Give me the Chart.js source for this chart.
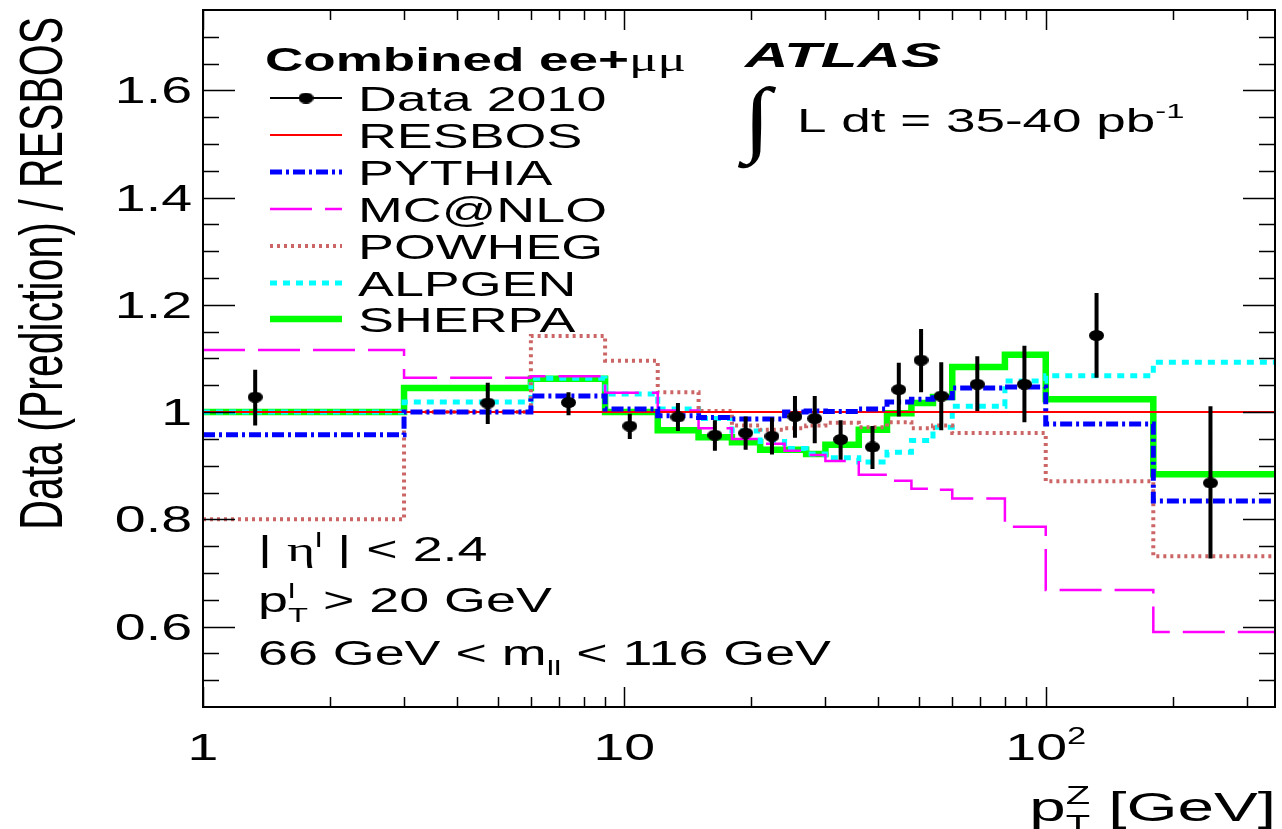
<!DOCTYPE html>
<html>
<head>
<meta charset="utf-8">
<script src="https://cdn.jsdelivr.net/npm/chart.js@4.4.1/dist/chart.umd.min.js"></script>
<style>
  html, body { margin: 0; padding: 0; background: #fff; }
  #wrap { width: 1282px; height: 829px; }
</style>
</head>
<body>
<div id="wrap"><canvas id="ratio" width="1282" height="829"></canvas></div>
<script>
// Z pT ratio plot: Data and generator predictions divided by RESBOS.

// -- bins (GeV); the first bin starts at the axis minimum on the log scale ----
const binEdges = [1, 3, 6, 9, 12, 15, 18, 21, 24, 27, 30, 36, 42, 48, 54, 60, 80, 100, 180, 350];

// -- one value per bin --------------------------------------------------------
const resbos = [1, 1, 1, 1, 1, 1, 1, 1, 1, 1, 1, 1, 1, 1, 1, 1, 1, 1, 1];
const pythia = [0.958, 1.000, 1.030, 1.006, 0.993, 0.990, 0.987, 0.987, 1.000, 1.002, 1.001, 1.006, 1.019, 1.024, 1.027, 1.045, 1.047, 0.978, 0.834];
const mcnlo  = [1.116, 1.064, 1.067, 1.036, 1.003, 0.970, 0.950, 0.941, 0.928, 0.920, 0.909, 0.883, 0.872, 0.857, 0.855, 0.839, 0.786, 0.668, 0.590];
const powheg = [0.800, 1.000, 1.142, 1.096, 1.037, 1.002, 0.975, 0.967, 0.970, 0.975, 0.980, 0.972, 0.981, 0.970, 0.975, 0.961, 0.961, 0.871, 0.731];
const alpgen = [1.000, 1.019, 1.063, 1.034, 1.006, 0.988, 0.965, 0.945, 0.932, 0.922, 0.915, 0.907, 0.925, 0.947, 0.972, 1.011, 1.058, 1.068, 1.093];
const sherpa = [1.000, 1.045, 1.062, 1.000, 0.966, 0.953, 0.944, 0.930, 0.930, 0.922, 0.939, 0.967, 0.998, 1.017, 1.028, 1.084, 1.107, 1.024, 0.884];

// -- data points with errors ---------------------------------------------------
const dataX    = [1.33, 4.74, 7.37, 10.3, 13.4, 16.4, 19.4, 22.4, 25.4, 28.3, 32.6, 38.8, 44.8, 50.6, 56.5, 68.8, 89.0, 132, 246];
const dataY    = [1.028, 1.017, 1.018, 0.974, 0.991, 0.957, 0.961, 0.955, 0.992, 0.988, 0.949, 0.935, 1.042, 1.097, 1.030, 1.052, 1.052, 1.143, 0.868];
const dataLow  = [0.975, 0.978, 0.994, 0.950, 0.965, 0.928, 0.930, 0.921, 0.952, 0.942, 0.911, 0.894, 0.992, 1.037, 0.966, 1.002, 0.981, 1.064, 0.727];
const dataHigh = [1.079, 1.055, 1.037, 0.997, 1.017, 0.985, 0.992, 0.990, 1.030, 1.030, 0.985, 0.974, 1.092, 1.155, 1.093, 1.104, 1.124, 1.222, 1.011];

// -- axes ------------------------------------------------------------------------
const xTickValues = [1, 10, 100];
const xTickLabels = ['1', '10', '10^2'];
const yTickValues = [0.6, 0.8, 1, 1.2, 1.4, 1.6];
const yTickLabels = ['0.6', '0.8', '1', '1.2', '1.4', '1.6'];

// -- styles --------------------------------------------------------------------
const SX = 1.56; // the reference text is drawn wide
const FONT = '"Liberation Sans", Arial, Helvetica, sans-serif';
const GREEK = '"Liberation Serif", "DejaVu Serif", serif';

const series = [
  { label: 'RESBOS', values: resbos, color: '#ff0000', width: 2,   dash: [],             order: 2 },
  { label: 'PYTHIA', values: pythia, color: '#0000ff', width: 5,   dash: [12, 4, 3, 4],  order: 1 },
  { label: 'MC@NLO', values: mcnlo,  color: '#ff00ff', width: 2.5, dash: [42, 13],       order: 3 },
  { label: 'POWHEG', values: powheg, color: '#cc6666', width: 4,   dash: [3, 4],         order: 4 },
  { label: 'ALPGEN', values: alpgen, color: '#00ffff', width: 5,   dash: [7, 6],         order: 5 },
  { label: 'SHERPA', values: sherpa, color: '#00ff00', width: 6.5, dash: [],             order: 6 },
];

// Filled ellipse used as the data marker (the picture is stretched sideways).
function makeMarker(w, h) {
  const c = document.createElement('canvas');
  c.width = w;
  c.height = h;
  const g = c.getContext('2d');
  g.fillStyle = '#000';
  g.beginPath();
  g.ellipse(w / 2, h / 2, w / 2, h / 2, 0, 0, Math.PI * 2);
  g.fill();
  return c;
}
const dataMarker = makeMarker(15, 11);

// Step histogram: each bin value is held from its left edge to the next one.
function histPoints(values) {
  const pts = values.map((v, i) => ({ x: binEdges[i], y: v }));
  pts.push({ x: binEdges[binEdges.length - 1], y: values[values.length - 1] });
  return pts;
}

// -----------------------------------------------------------------------------
// Rich text: parts like { t, pos: 'sup'|'sub', stack, bold, italic, greek }
// -----------------------------------------------------------------------------
function partFont(p, size) {
  const s = p.pos ? Math.round(size * 0.62) : size;
  return `${p.italic ? 'italic ' : ''}${p.bold ? 'bold ' : ''}${s}px ${p.greek ? GREEK : FONT}`;
}

function layoutRich(ctx, parts, size) {
  let x = 0;
  let prevX = 0;
  let prevW = 0;
  const items = [];
  for (const p of parts) {
    const font = partFont(p, size);
    ctx.font = font;
    const w = ctx.measureText(p.t).width;
    const px = p.stack ? prevX : x;
    const dy = p.pos === 'sup' ? -size * 0.42 : p.pos === 'sub' ? size * 0.3 : 0;
    items.push({ t: p.t, px, dy, font });
    if (p.stack) {
      x = prevX + Math.max(prevW, w);
    } else {
      prevX = px;
      prevW = w;
      x = px + w;
    }
  }
  return { items, width: x };
}

function drawRich(ctx, x, y, parts, size, align = 'left', sx = SX) {
  ctx.save();
  const { items, width } = layoutRich(ctx, parts, size);
  ctx.translate(x, y);
  ctx.scale(sx, 1);
  const x0 = align === 'right' ? -width : align === 'center' ? -width / 2 : 0;
  ctx.fillStyle = '#000';
  ctx.textAlign = 'left';
  ctx.textBaseline = 'alphabetic';
  for (const it of items) {
    ctx.font = it.font;
    ctx.fillText(it.t, x0 + it.px, it.dy);
  }
  ctx.restore();
}

function parseLabel(s) {
  const [base, sup] = s.split('^');
  return sup ? [{ t: base }, { t: sup, pos: 'sup' }] : [{ t: base }];
}

// -----------------------------------------------------------------------------
// Error bars — drawn just before the data dataset so the markers sit on top.
// -----------------------------------------------------------------------------
const errorBarPlugin = {
  id: 'errorBars',
  beforeDatasetDraw(chart, args) {
    if (args.index !== 0) return;
    const { x, y } = chart.scales;
    const ctx = chart.ctx;
    ctx.save();
    ctx.strokeStyle = '#000';
    ctx.lineWidth = 4;
    ctx.beginPath();
    dataX.forEach((xv, i) => {
      const px = x.getPixelForValue(xv);
      ctx.moveTo(px, y.getPixelForValue(dataLow[i]));
      ctx.lineTo(px, y.getPixelForValue(dataHigh[i]));
    });
    ctx.stroke();
    ctx.restore();
  },
};

// -----------------------------------------------------------------------------
// Frame, inward ticks on all four sides, labels, legend and annotations.
// -----------------------------------------------------------------------------
const framePlugin = {
  id: 'rootFrame',
  afterDraw(chart) {
    const ctx = chart.ctx;
    const a = chart.chartArea;
    const { x, y } = chart.scales;

    ctx.save();
    ctx.strokeStyle = '#000';
    ctx.lineWidth = 2;
    ctx.strokeRect(a.left, a.top, a.right - a.left, a.bottom - a.top);

    // y ticks: majors from the tick list, minors every 0.05
    ctx.lineWidth = 1.5;
    ctx.beginPath();
    for (let k = 9; k <= 35; k += 1) {
      const v = k * 0.05;
      const py = Math.round(y.getPixelForValue(v)) + 0.5;
      if (py < a.top + 1 || py > a.bottom - 1) continue;
      const major = yTickValues.some((t) => Math.abs(t - v) < 1e-6);
      const len = major ? 32 : 16;
      ctx.moveTo(a.left, py);
      ctx.lineTo(a.left + len, py);
      ctx.moveTo(a.right, py);
      ctx.lineTo(a.right - len, py);
    }
    // x ticks: log decades with 2..9 minors
    for (let d = 1; d <= 100; d *= 10) {
      for (let m = 1; m <= 9; m += 1) {
        const v = d * m;
        if (v > x.max) break;
        const px = Math.round(x.getPixelForValue(v)) + 0.5;
        const len = m === 1 ? 20 : 10;
        ctx.moveTo(px, a.bottom);
        ctx.lineTo(px, a.bottom - len);
        ctx.moveTo(px, a.top);
        ctx.lineTo(px, a.top + len);
      }
    }
    ctx.stroke();
    ctx.restore();

    // tick labels
    y.ticks.forEach((t, i) => {
      const py = y.getPixelForValue(t.value);
      drawRich(ctx, 192, py + 13, [{ t: yTickLabels[i] }], 37, 'right', 1.5);
    });
    x.ticks.forEach((t, i) => {
      const px = x.getPixelForValue(t.value);
      drawRich(ctx, px, 760, parseLabel(xTickLabels[i]), 37, 'center', 1.5);
    });

    // axis titles
    drawRich(ctx, 1276, 821,
      [{ t: 'p' }, { t: 'Z', pos: 'sup' }, { t: 'T', pos: 'sub', stack: true }, { t: ' [GeV]' }], 41, 'right', 1.6);

    ctx.save();
    ctx.translate(62, 17);
    ctx.rotate(-Math.PI / 2);
    ctx.scale(1, 1.5);
    ctx.font = `41px ${FONT}`;
    ctx.fillStyle = '#000';
    ctx.textAlign = 'right';
    ctx.textBaseline = 'alphabetic';
    ctx.fillText('Data (Prediction) / RESBOS', 0, 0);
    ctx.restore();

    // legend
    drawRich(ctx, 265, 71, [{ t: 'Combined ee+', bold: true }, { t: 'μμ', greek: true }], 34);
    const rowY = [98, 135, 172, 209, 246, 283, 319];
    const lx1 = 270;
    const lx2 = 342;
    ctx.save();
    ctx.strokeStyle = '#000';
    ctx.lineWidth = 2;
    ctx.beginPath();
    ctx.moveTo(lx1, rowY[0]);
    ctx.lineTo(lx2, rowY[0]);
    ctx.stroke();
    ctx.drawImage(dataMarker, (lx1 + lx2) / 2 - dataMarker.width / 2, rowY[0] - dataMarker.height / 2);
    ctx.restore();
    drawRich(ctx, 358, rowY[0] + 12.5, [{ t: 'Data 2010' }], 34.5);
    series.forEach((s, i) => {
      const ly = rowY[i + 1];
      ctx.save();
      ctx.strokeStyle = s.color;
      ctx.lineWidth = s.width;
      ctx.setLineDash(s.dash);
      ctx.beginPath();
      ctx.moveTo(lx1, ly);
      ctx.lineTo(lx2, ly);
      ctx.stroke();
      ctx.restore();
      drawRich(ctx, 358, ly + 12.5, [{ t: s.label }], 34.5);
    });

    // experiment label
    drawRich(ctx, 745, 67, [{ t: 'ATLAS', bold: true, italic: true }], 35, 'left', 1.72);
    ctx.save();
    ctx.font = `84px ${GREEK}`;
    ctx.fillStyle = '#000';
    ctx.textAlign = 'center';
    ctx.textBaseline = 'middle';
    ctx.translate(757, 124);
    ctx.scale(1.2, 1);
    ctx.fillText('∫', 0, 0);
    ctx.restore();
    drawRich(ctx, 797, 132, [{ t: 'L dt = 35-40 pb' }, { t: '-1', pos: 'sup' }], 34);

    // selection cuts
    drawRich(ctx, 258, 561, [{ t: '| ' }, { t: 'η', greek: true }, { t: 'l', pos: 'sup' }, { t: ' | < 2.4' }], 34.5);
    drawRich(ctx, 258, 612, [{ t: 'p' }, { t: 'l', pos: 'sup' }, { t: 'T', pos: 'sub', stack: true }, { t: ' > 20 GeV' }], 34.5);
    drawRich(ctx, 258, 665, [{ t: '66 GeV < m' }, { t: 'll', pos: 'sub' }, { t: ' < 116 GeV' }], 34.5);
  },
};

const datasets = [
  {
    label: 'Data 2010',
    data: dataX.map((xv, i) => ({ x: xv, y: dataY[i] })),
    showLine: false,
    pointStyle: dataMarker,
    pointRadius: 6,
    order: 0,
  },
  ...series.map((s) => ({
    label: s.label,
    data: histPoints(s.values),
    stepped: 'before',
    borderColor: s.color,
    borderWidth: s.width,
    borderDash: s.dash,
    borderCapStyle: 'butt',
    borderJoinStyle: 'miter',
    backgroundColor: 'transparent',
    fill: false,
    pointRadius: 0,
    order: s.order,
  })),
];

new Chart(document.getElementById('ratio'), {
  type: 'line',
  data: { datasets },
  options: {
    responsive: false,
    animation: false,
    devicePixelRatio: 1,
    layout: { padding: { top: 10, right: 5, left: 0, bottom: 0 } },
    plugins: {
      legend: { display: false },
      tooltip: { enabled: false },
    },
    scales: {
      x: {
        type: 'logarithmic',
        min: 1,
        max: 350,
        grid: { display: false },
        border: { display: false },
        ticks: { display: false },
        afterBuildTicks: (s) => { s.ticks = xTickValues.map((v) => ({ value: v })); },
        afterFit: (s) => { s.height = 122; },
      },
      y: {
        type: 'linear',
        min: 0.45,
        max: 1.75,
        grid: { display: false },
        border: { display: false },
        ticks: { display: false },
        afterBuildTicks: (s) => { s.ticks = yTickValues.map((v) => ({ value: v })); },
        afterFit: (s) => { s.width = 203; },
      },
    },
  },
  plugins: [errorBarPlugin, framePlugin],
});
</script>
</body>
</html>
